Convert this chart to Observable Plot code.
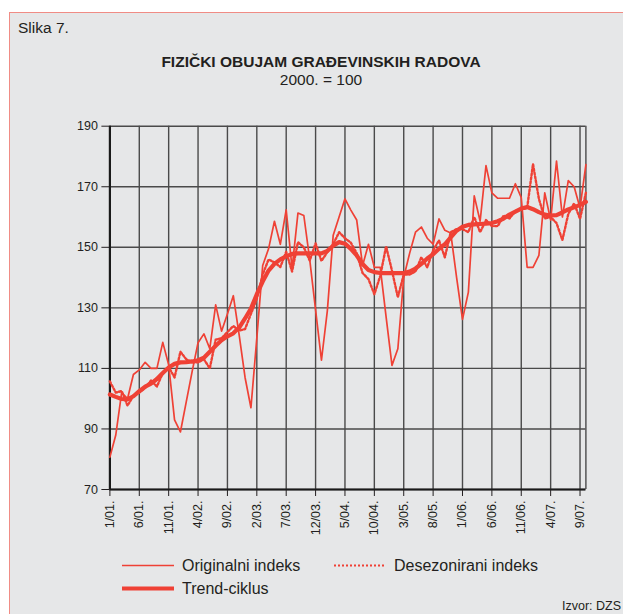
<!DOCTYPE html>
<html><head><meta charset="utf-8">
<script src="https://cdn.jsdelivr.net/npm/d3@7"></script>
<script src="https://cdn.jsdelivr.net/npm/@observablehq/plot@0.6"></script>
<style>
body{margin:0;background:#fff;font-family:"Liberation Sans",Arial,sans-serif;color:#231f20;}
#page{position:relative;width:623px;height:614px;overflow:hidden;background:#fff;}
#box{position:absolute;left:9px;top:12px;width:700px;height:700px;background:#e6e7e8;border:1.5px solid #f08c85;box-sizing:border-box;}
.t{position:absolute;white-space:nowrap;}
#chart{position:absolute;left:0;top:100px;}
</style></head>
<body>
<div id="page">
  <div id="box"></div>
  <div class="t" style="left:18px;top:19px;font-size:15.5px;">Slika 7.</div>
  <div class="t" style="left:0;width:642px;text-align:center;top:53px;font-size:15.5px;font-weight:bold;">FIZIČKI OBUJAM GRAĐEVINSKIH RADOVA</div>
  <div class="t" style="left:0;width:642px;text-align:center;top:71px;font-size:15.5px;">2000. = 100</div>
  <div id="chart"></div>
  <svg id="legend" style="position:absolute;left:0;top:550px;" width="623" height="64"></svg>
</div>
<script>
// ---- data (month index 0 = 1/01 ... 81 = 10/07) ----
const original = [80.7, 88, 102, 100, 108, 109.5, 112, 110, 110, 118.6,
  111.2, 93, 89, 99, 109, 118.5, 121.4, 116.5, 131, 122.3,
  128, 134, 121, 107, 97, 120, 144, 149.5, 158.6, 151,
  162.4, 143, 161.3, 160.5, 146, 129.3, 112.7, 129, 154, 160,
  166, 162.3, 159, 144, 151, 143.4, 143.4, 127, 111, 116.5,
  140, 148, 155, 156.7, 153, 151, 159.4, 155.6, 154.7, 140,
  126.2, 135.2, 167, 158.6, 177, 168, 166.2, 166.2, 166.2, 171,
  166.4, 143.4, 143.4, 147.3, 168, 159, 178.5, 160, 172, 170,
  163, 177.3];
const deseasonalized = [105.7, 102, 102.5, 97.7, 101, 102, 103.5, 106, 104, 108.5,
  110.5, 107, 115.5, 113, 112, 112, 113, 110, 119.5, 120,
  122, 124, 122.5, 123, 128, 133, 141, 146, 145, 143.5,
  148.5, 142, 151.7, 150, 145.6, 151.3, 145.5, 148.4, 151, 155,
  153, 151.5, 148, 141.5, 139.5, 134.5, 140.5, 150.3, 142.3, 133.5,
  141, 141, 142, 146.7, 143.4, 149, 152.3, 146.7, 155, 156,
  156, 155, 160, 155, 159, 157, 157, 160.5, 159.5, 162,
  162.5, 163, 177.5, 166, 159.5, 160, 158, 152.4, 161, 164.5,
  159.4, 168];
const trend = [101.4, 100.6, 99.9, 99.8, 100.8, 102.5, 104, 105, 106.5, 108.5,
  110.3, 111.5, 112, 112.1, 112.3, 112.7, 113.5, 115.5, 117.5, 119.3,
  120.6, 121.6, 123.5, 126.5, 129.8, 134.5, 138.7, 142.3, 144.5, 146,
  147, 147.8, 148, 148, 148, 148, 148, 148.8, 150.5, 151.7,
  151.2, 149.5, 147.3, 144.5, 142.5, 141.8, 141.5, 141.5, 141.5, 141.5,
  141.5, 142, 143, 144.5, 146.3, 147.7, 149.5, 151, 153.3, 155.5,
  156.8, 157.4, 157.6, 157.7, 157.8, 158, 158.6, 159.5, 160.8, 161.8,
  162.8, 163.3, 162.6, 161.6, 160.8, 160.5, 160.6, 161.5, 162.5, 163.2,
  164, 165];
const xTickLabels = ["1/01.","6/01.","11/01.","4/02.","9/02.","2/03.","7/03.","12/03.","5/04.",
  "10/04.","3/05.","8/05.","1/06.","6/06.","11/06.","4/07.","9/07."];
const yTicks = [70, 90, 110, 130, 150, 170, 190];
const seriesNames = ["Originalni indeks", "Desezonirani indeks", "Trend-ciklus"];

const RED = "#ef4135";
const xTicks = xTickLabels.map((_, k) => k * 5);
const lastIndex = original.length - 1;

const chart = Plot.plot({
  width: 623, height: 450,
  marginLeft: 109.4, marginRight: 37.6, marginTop: 25.7, marginBottom: 61,
  style: {background: "transparent", fontFamily: "'Liberation Sans', Arial, sans-serif", fontSize: "12.5px", color: "#231f20"},
  x: {domain: [0, lastIndex], ticks: xTicks, tickFormat: i => xTickLabels[Math.round(i / 5)],
      tickRotate: -90, tickSize: 7, tickPadding: 4, label: null},
  y: {domain: [70, 190], ticks: yTicks, tickSize: 8, tickPadding: 4, label: null},
  marks: [
    Plot.ruleX(xTicks.concat([lastIndex]), {stroke: "#4a4a4a", strokeWidth: 1.4}),
    Plot.ruleY(yTicks, {stroke: "#4a4a4a", strokeWidth: 1.4}),
    Plot.ruleX([0], {stroke: "#1a1a1a", strokeWidth: 2.2}),
    Plot.ruleY([70], {stroke: "#1a1a1a", strokeWidth: 2.2}),
    Plot.lineY(deseasonalized, {stroke: RED, strokeWidth: 2.4, strokeDasharray: "2,2"}),
    Plot.lineY(original, {stroke: RED, strokeWidth: 1.7}),
    Plot.lineY(trend, {stroke: RED, strokeWidth: 4.2, strokeLinejoin: "round", strokeLinecap: "round"})
  ]
});
document.getElementById("chart").appendChild(chart);

// ---- legend ----
const lg = d3.select("#legend");
const items = [
  {name: seriesNames[0], x: 122, y: 15.5, w: 1.7, dash: null},
  {name: seriesNames[1], x: 334, y: 15.5, w: 2, dash: "2,2"},
  {name: seriesNames[2], x: 122, y: 38.5, w: 4.2, dash: null}
];
items.forEach(it => {
  lg.append("line").attr("x1", it.x).attr("x2", it.x + 52).attr("y1", it.y).attr("y2", it.y)
    .attr("stroke", RED).attr("stroke-width", it.w).attr("stroke-dasharray", it.dash);
  lg.append("text").attr("x", it.x + 60).attr("y", it.y + 5.5).attr("font-size", 16)
    .attr("fill", "#231f20").attr("font-family", "'Liberation Sans', Arial, sans-serif").text(it.name);
});
lg.append("text").attr("x", 621).attr("y", 60).attr("text-anchor", "end").attr("font-size", 12.5)
  .attr("fill", "#231f20").attr("font-family", "'Liberation Sans', Arial, sans-serif").text("Izvor: DZS");
</script>
</body></html>
